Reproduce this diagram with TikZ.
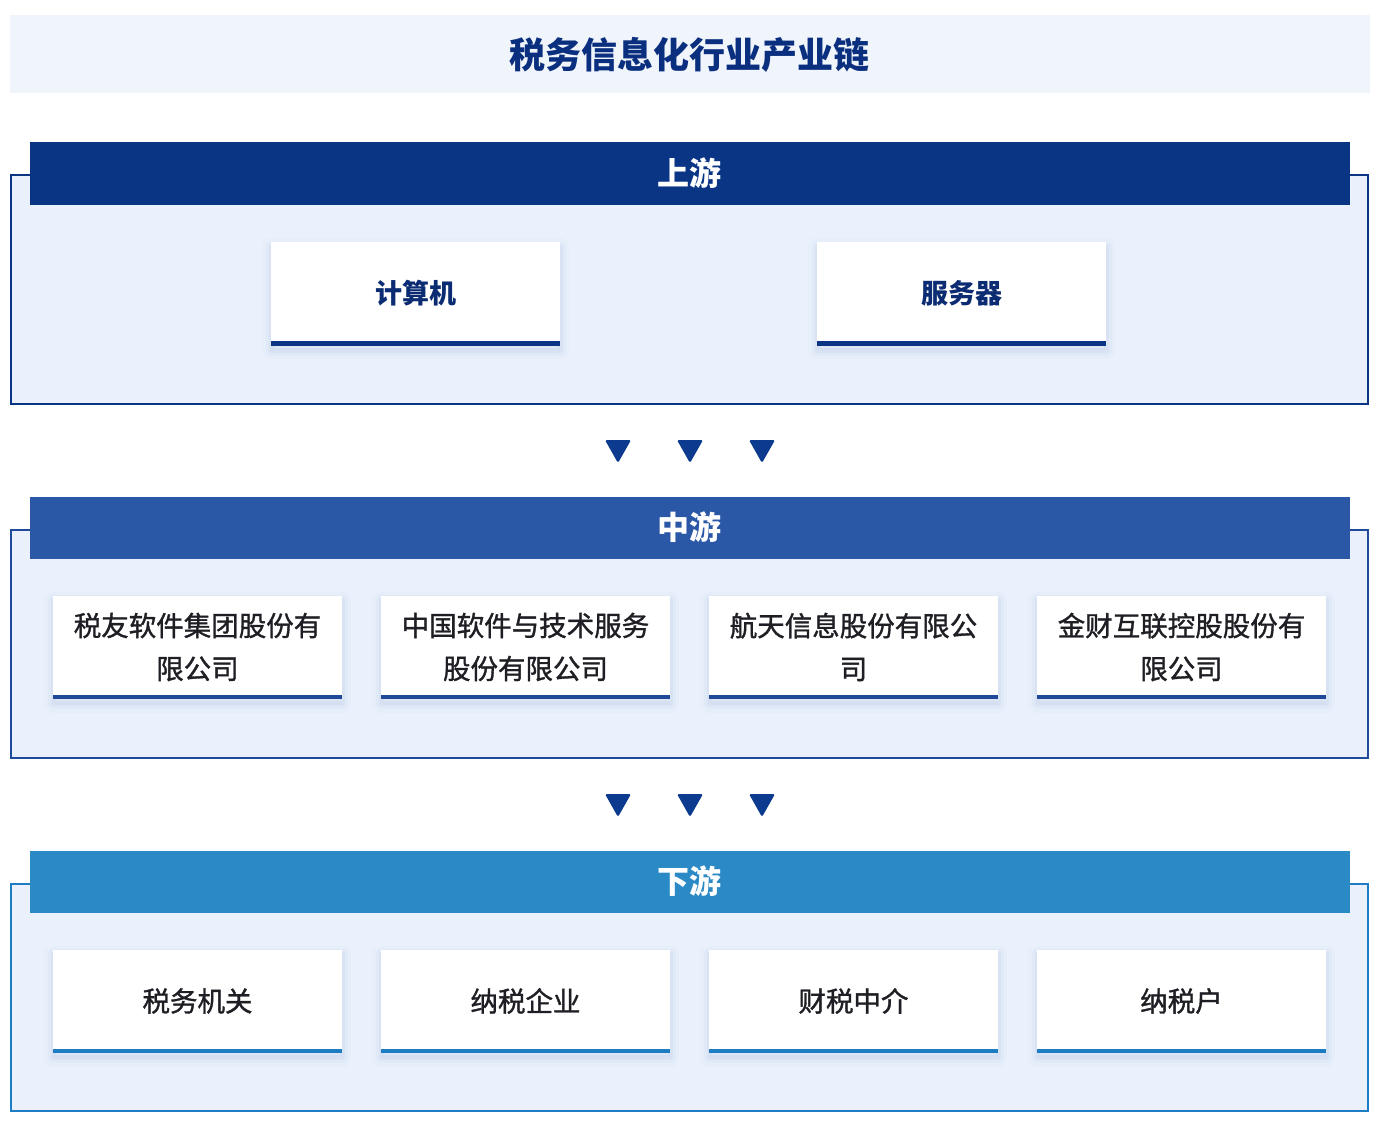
\documentclass[tikz,border=0pt]{standalone}
\usepackage{fontspec}
\newfontfamily\cjk{Noto Sans CJK SC}
\newfontfamily\cjkm[FakeBold=1.2]{Noto Sans CJK SC}
\definecolor{titlebg}{HTML}{F0F4FB}
\definecolor{titlecol}{HTML}{0B2F7F}
\definecolor{upc}{HTML}{0A3585}
\definecolor{midc}{HTML}{2B57A7}
\definecolor{midline}{HTML}{1F4A9A}
\definecolor{downc}{HTML}{2B8AC5}
\definecolor{downline}{HTML}{1E7CC2}
\definecolor{panelfill}{HTML}{EAF1FC}
\definecolor{uptext}{HTML}{0B2C72}
\definecolor{bodytext}{HTML}{1E1E24}
\definecolor{tri}{HTML}{0B3A8E}
\definecolor{shc}{HTML}{7F97CC}
\tikzset{
  panel/.style={line width=2.5pt, draw=#1, fill=panelfill},
  headbar/.style={fill=#1},
  headtext/.style={text=white, font=\cjk\bfseries\fontsize{32}{36}\selectfont, inner sep=0pt},
  softshadow/.style={
    preaction={draw=shc, fill=shc, line width=18pt, opacity=0.03, line join=round, transform canvas={yshift=-5pt}},
    preaction={draw=shc, line width=11pt, opacity=0.05, line join=round, transform canvas={yshift=-5pt}},
    preaction={draw=shc, line width=5pt, opacity=0.08, line join=round, transform canvas={yshift=-5pt}}},
  card/.style={fill=white, minimum width=289pt, minimum height=103pt, inner sep=0pt, align=center, softshadow,
    path picture={\fill[#1] ([yshift=-1pt]path picture bounding box.south west) rectangle ([yshift=4pt]path picture bounding box.south east);}},
  uptxt/.style={text=uptext, font=\cjk\bfseries\fontsize{27}{32}\selectfont},
  bodytxt/.style={text=bodytext, font=\cjkm\fontsize{27.5}{43}\selectfont},
  arrowtri/.style={fill=tri, rounded corners=1.5pt}
}
\begin{document}
\begin{tikzpicture}[x=1pt,y=-1pt]
\useasboundingbox[fill=white] (0,0) rectangle (1386,1128);
% title
\fill[titlebg] (10,15) rectangle (1370,93);
\node[text=titlecol, font=\cjk\bfseries\fontsize{36}{40}\selectfont] (title) at (689,55) {税务信息化行业产业链};

% upstream
\draw[panel=upc] (11,175) rectangle (1368,404);
\fill[headbar=upc] (30,142) rectangle (1350,205);
\node[headtext] (uph) at (689,173) {上游};
\node[card=upc, uptxt] (u1) at (415.5,293.5) {计算机};
\node[card=upc, uptxt] (u2) at (961.5,293.5) {服务器};

% arrows 1
\foreach \cx in {618,690,762}{
  \fill[arrowtri] (\cx-13,440) -- (\cx+13,440) -- (\cx,463) -- cycle;
}

% midstream
\draw[panel=midline] (11,530) rectangle (1368,758);
\fill[headbar=midc] (30,497) rectangle (1350,559);
\node[headtext] (midh) at (689,527) {中游};
\node[card=midline, bodytxt] (m1) at (197.5,647) {税友软件集团股份有\\限公司};
\node[card=midline, bodytxt] (m2) at (525.5,647) {中国软件与技术服务\\股份有限公司};
\node[card=midline, bodytxt] (m3) at (853.5,647) {航天信息股份有限公\\司};
\node[card=midline, bodytxt] (m4) at (1181.5,647) {金财互联控股股份有\\限公司};

% arrows 2
\foreach \cx in {618,690,762}{
  \fill[arrowtri] (\cx-13,794) -- (\cx+13,794) -- (\cx,817) -- cycle;
}

% downstream
\draw[panel=downline] (11,884) rectangle (1368,1111);
\fill[headbar=downc] (30,851) rectangle (1350,913);
\node[headtext] (downh) at (689,881) {下游};
\node[card=downline, bodytxt] (d1) at (197.5,1001) {税务机关};
\node[card=downline, bodytxt] (d2) at (525.5,1001) {纳税企业};
\node[card=downline, bodytxt] (d3) at (853.5,1001) {财税中介};
\node[card=downline, bodytxt] (d4) at (1181.5,1001) {纳税户};
\end{tikzpicture}
\end{document}
